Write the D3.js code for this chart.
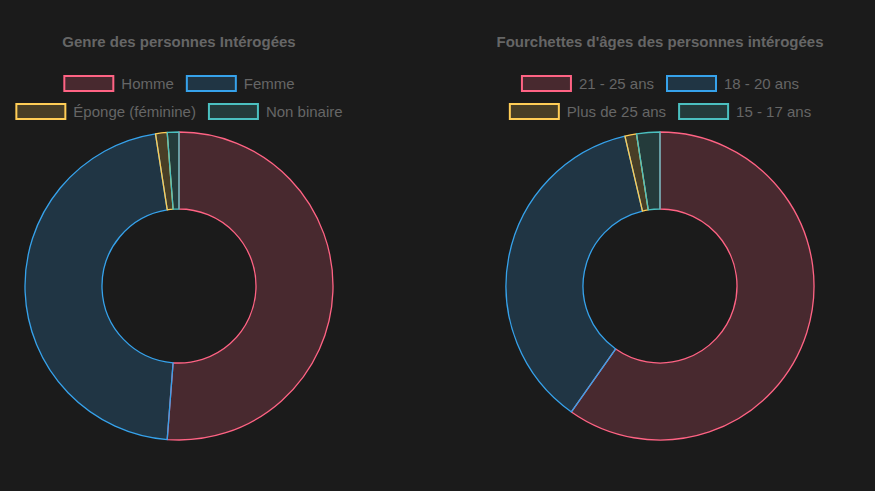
<!DOCTYPE html>
<html>
<head>
<meta charset="utf-8">
<script src="https://cdn.jsdelivr.net/npm/d3@7"></script>
<style>
  html, body { margin: 0; padding: 0; background: #1b1b1b; }
  svg { display: block; }
</style>
</head>
<body>
<svg id="chart"></svg>
<script>
// data (counts, 82 answers per chart)
var genreLabels = ['Homme', 'Femme', 'Éponge (féminine)', 'Non binaire'];
var genreValues = [42, 38, 1, 1];

var ageLabels = ['21 - 25 ans', '18 - 20 ans', 'Plus de 25 ans', '15 - 17 ans'];
var ageValues = [49, 30, 1, 2];

var titles = ['Genre des personnes Intérogées', "Fourchettes d'âges des personnes intérogées"];

var colors = ['255,99,132', '54,162,235', '255,205,86', '75,192,192'];

var svgWidth = 875, svgHeight = 491;
var svg = d3.select('#chart')
    .attr('width', svgWidth)
    .attr('height', svgHeight);

svg.append('rect')
    .attr('width', svgWidth)
    .attr('height', svgHeight)
    .attr('fill', '#1b1b1b');

function drawDoughnut(cx, labels, values, title) {
    var g = svg.append('g');
    var fontFamily = '"Liberation Sans", Arial, Helvetica, sans-serif';

    // title
    g.append('text')
        .attr('x', cx)
        .attr('y', 47)
        .attr('text-anchor', 'middle')
        .attr('fill', '#666')
        .style('font-family', fontFamily)
        .style('font-size', '15px')
        .style('font-weight', 'bold')
        .text(title);

    // legend, flowing into rows like chart.js does
    var boxW = 51, boxH = 15, textGap = 7, itemGap = 12, maxW = 345;
    var items = labels.map(function (l, i) {
        var t = g.append('text')
            .style('font-family', fontFamily)
            .style('font-size', '15px')
            .attr('fill', '#666')
            .attr('dominant-baseline', 'central')
            .text(l);
        return { label: l, i: i, node: t, w: boxW + textGap + t.node().getComputedTextLength() };
    });

    var rows = [[]], rowW = [0];
    items.forEach(function (it) {
        var r = rows.length - 1;
        var add = (rows[r].length ? itemGap : 0) + it.w;
        if (rows[r].length && rowW[r] + add > maxW) {
            rows.push([it]); rowW.push(it.w);
        } else {
            rows[r].push(it); rowW[r] += add;
        }
    });

    rows.forEach(function (row, r) {
        var y = 83.5 + r * 28;
        var x = cx - rowW[r] / 2;
        row.forEach(function (it) {
            g.append('rect')
                .attr('x', x + 1)
                .attr('y', y - boxH / 2)
                .attr('width', boxW - 2)
                .attr('height', boxH)
                .attr('fill', 'rgba(' + colors[it.i] + ',0.2)')
                .attr('stroke', 'rgb(' + colors[it.i] + ')')
                .attr('stroke-width', 2);
            it.node.attr('x', x + boxW + textGap).attr('y', y);
            x += it.w + itemGap;
        });
    });

    // doughnut
    var pie = d3.pie().sort(null).value(function (d) { return d; });
    var arc = d3.arc().innerRadius(77).outerRadius(154);

    g.append('g')
        .attr('transform', 'translate(' + cx + ',286)')
        .selectAll('path')
        .data(pie(values))
        .enter().append('path')
        .attr('d', arc)
        .attr('fill', function (d, i) { return 'rgba(' + colors[i] + ',0.2)'; })
        .attr('stroke', function (d, i) { return 'rgb(' + colors[i] + ')'; })
        .attr('stroke-width', 1.3)
        .attr('stroke-linejoin', 'round');
}

drawDoughnut(179, genreLabels, genreValues, titles[0]);
drawDoughnut(660, ageLabels, ageValues, titles[1]);
</script>
</body>
</html>
